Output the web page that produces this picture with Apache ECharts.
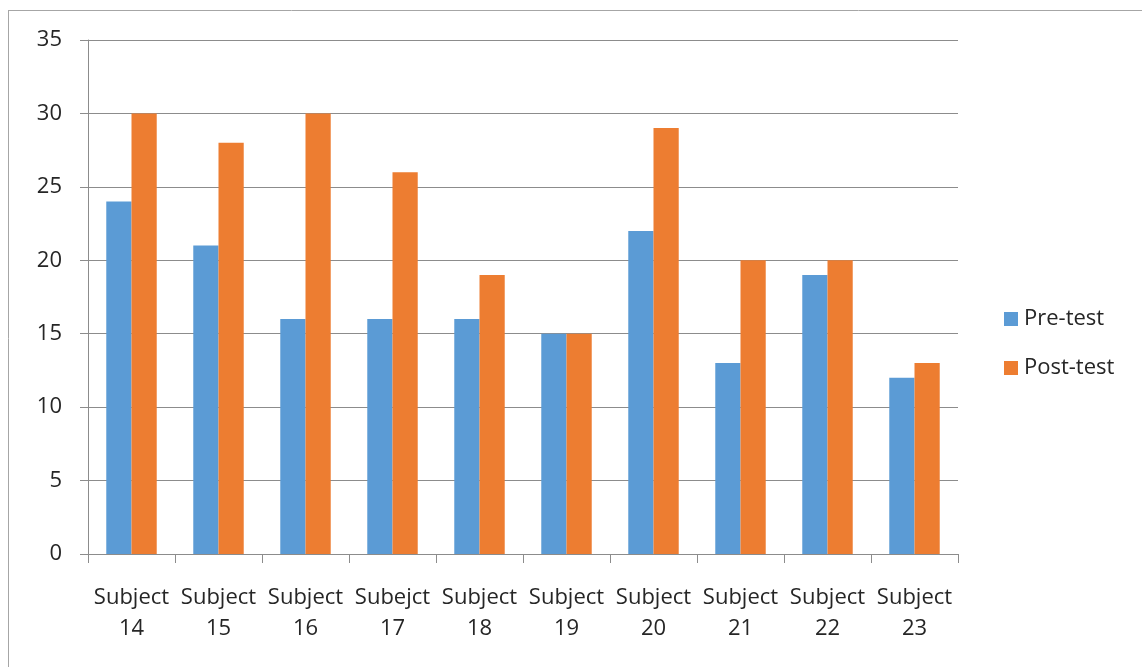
<!DOCTYPE html>
<html>
<head>
<meta charset="utf-8">
<script src="https://cdn.jsdelivr.net/npm/echarts@6/dist/echarts.min.js"></script>
<style>
  html, body { margin: 0; padding: 0; background: #fff; }
  #chart { width: 1142px; height: 667px; }
</style>
</head>
<body>
<div id="chart"></div>
<script>
// Test scores per subject
const categories = ['Subject\n14', 'Subject\n15', 'Subject\n16', 'Subejct\n17', 'Subject\n18',
                    'Subject\n19', 'Subject\n20', 'Subject\n21', 'Subject\n22', 'Subject\n23'];
const preTest  = [24, 21, 16, 16, 16, 15, 22, 13, 19, 12];
const postTest = [30, 28, 30, 26, 19, 15, 29, 20, 20, 13];
const yTicks = { min: 0, max: 35, interval: 5 };

const FONT = 'Open Sans';
const GRAY = '#8c8c8c';

const chart = echarts.init(document.getElementById('chart'), null, { renderer: 'canvas' });
chart.setOption({
  animation: false,
  backgroundColor: '#fff',
  graphic: [
    { type: 'line', shape: { x1: 8, y1: 10.5, x2: 1142, y2: 10.5 }, style: { stroke: '#a6a6a6', lineWidth: 1 } },
    { type: 'line', shape: { x1: 8.5, y1: 10, x2: 8.5, y2: 667 }, style: { stroke: '#a6a6a6', lineWidth: 1 } }
  ],
  grid: { left: 88, right: 184, top: 40, bottom: 113 },
  legend: {
    orient: 'vertical',
    left: 999,
    top: 303,
    itemWidth: 14,
    itemHeight: 14,
    itemGap: 27,
    icon: 'rect',
    textStyle: { fontFamily: FONT, fontSize: 22, color: '#262626', padding: [0, 0, 0, 1] },
    data: ['Pre-test', 'Post-test']
  },
  xAxis: {
    type: 'category',
    data: categories,
    axisLine: { lineStyle: { color: GRAY } },
    axisTick: { show: true, length: 9, alignWithLabel: false, lineStyle: { color: GRAY } },
    axisLabel: {
      interval: 0,
      margin: 28,
      fontFamily: FONT,
      fontSize: 22,
      lineHeight: 31,
      color: '#262626'
    }
  },
  yAxis: {
    type: 'value',
    min: yTicks.min,
    max: yTicks.max,
    interval: yTicks.interval,
    axisLine: { show: true, lineStyle: { color: GRAY } },
    axisTick: { show: true, length: 8, lineStyle: { color: GRAY } },
    splitLine: { lineStyle: { color: GRAY } },
    axisLabel: { margin: 26, fontFamily: FONT, fontSize: 22, color: '#262626' }
  },
  series: [
    {
      name: 'Pre-test', type: 'bar', data: preTest,
      itemStyle: { color: '#5B9BD5' },
      barGap: '0%', barCategoryGap: '42%'
    },
    {
      name: 'Post-test', type: 'bar', data: postTest,
      itemStyle: { color: '#ED7D31' },
      barGap: '0%', barCategoryGap: '42%'
    }
  ]
});
</script>
</body>
</html>
